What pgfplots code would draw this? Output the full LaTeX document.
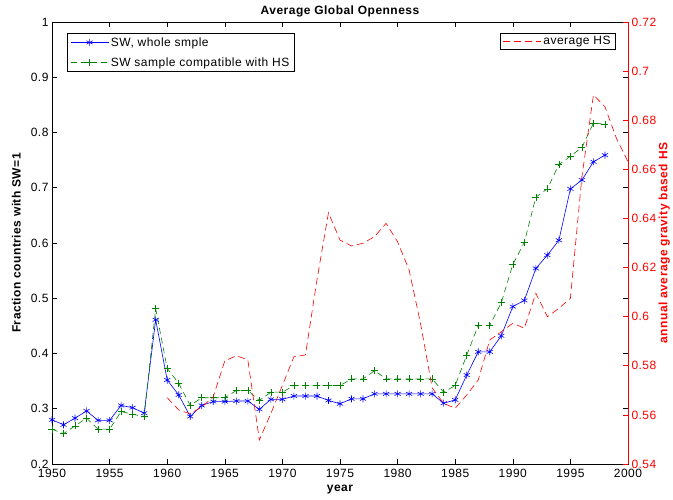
\documentclass[border=0pt]{standalone}
\usepackage{fontspec}
\setmainfont{Liberation Sans}[LetterSpace=4]
\usepackage{pgfplots}
\pgfplotsset{compat=1.18}

\definecolor{swblue}{rgb}{0,0,1}
\definecolor{swgreen}{rgb}{0,0.5,0}
\definecolor{hsred}{rgb}{1,0,0}

\begin{document}
\begin{tikzpicture}
\pgfplotsset{
  every axis/.append style={
    width=576pt, height=442pt, scale only axis,
    xmin=1950, xmax=2000,
    font=\fontsize{12}{14}\selectfont,
    /pgf/number format/assume math mode=true,
    /pgf/number format/1000 sep={},
    tick align=inside, major tick length=5pt,
    axis line style={line width=0.8pt},
    every tick/.style={line width=0.6pt},
    legend image code/.code={\draw[mark repeat=2,mark phase=2,#1] plot coordinates {(0pt,0pt) (19pt,0pt) (38pt,0pt)};},
  },
}
\begin{axis}[
  ymin=0.2, ymax=1,
  xtick={1950,1955,1960,1965,1970,1975,1980,1985,1990,1995,2000},
  ytick={0.2,0.3,0.4,0.5,0.6,0.7,0.8,0.9,1},
  xticklabel style={yshift=-2pt},
  title={Average Global Openness},
  every axis title shift=0pt,
  title style={at={(axis description cs:0.5,1.025)}, anchor=center, yshift=0pt, font=\fontsize{12}{14}\selectfont\bfseries},
  xlabel={year},
  xlabel style={at={(axis description cs:0.5,-0.058)}, anchor=center, font=\fontsize{12}{14}\selectfont\bfseries},
  ylabel={Fraction countries with SW=1},
  ylabel style={at={(axis description cs:-0.062,0.5)}, anchor=center, font=\fontsize{12}{14}\selectfont\bfseries},
  legend style={at={(0.026,0.975)}, anchor=north west, draw=black, line width=0.6pt, fill=white,
    font=\fontsize{12}{14}\selectfont, row sep=6pt, inner xsep=3pt, inner ysep=2pt},
  legend cell align=left,
]
\addplot[swblue, line width=0.6pt, mark=asterisk, mark size=3.5pt, mark options={solid}] coordinates {
(1950,0.280) (1951,0.271) (1952,0.283) (1953,0.296) (1954,0.279) (1955,0.279)
(1956,0.306) (1957,0.302) (1958,0.292) (1959,0.461) (1960,0.352) (1961,0.325)
(1962,0.286) (1963,0.306) (1964,0.313) (1965,0.313) (1966,0.314) (1967,0.314)
(1968,0.299) (1969,0.317) (1970,0.317) (1971,0.323) (1972,0.323) (1973,0.323)
(1974,0.315) (1975,0.309) (1976,0.318) (1977,0.318) (1978,0.327) (1979,0.327)
(1980,0.327) (1981,0.327) (1982,0.327) (1983,0.327) (1984,0.310) (1985,0.316)
(1986,0.361) (1987,0.403) (1988,0.403) (1989,0.432) (1990,0.485) (1991,0.496)
(1992,0.554) (1993,0.578) (1994,0.605) (1995,0.698) (1996,0.714) (1997,0.747)
(1998,0.759)
};
\addlegendentry{SW, whole smple}
\addplot[swgreen, line width=0.6pt, dash pattern=on 6pt off 4pt, mark=+, mark size=3.5pt, mark options={solid}] coordinates {
(1950,0.263) (1951,0.255) (1952,0.269) (1953,0.283) (1954,0.263) (1955,0.263)
(1956,0.295) (1957,0.290) (1958,0.286) (1959,0.481) (1960,0.373) (1961,0.346)
(1962,0.306) (1963,0.320) (1964,0.320) (1965,0.320) (1966,0.333) (1967,0.333)
(1968,0.315) (1969,0.330) (1970,0.330) (1971,0.342) (1972,0.342) (1973,0.342)
(1974,0.342) (1975,0.342) (1976,0.354) (1977,0.354) (1978,0.369) (1979,0.354)
(1980,0.354) (1981,0.354) (1982,0.354) (1983,0.354) (1984,0.330) (1985,0.342)
(1986,0.397) (1987,0.451) (1988,0.451) (1989,0.492) (1990,0.561) (1991,0.601)
(1992,0.683) (1993,0.698) (1994,0.742) (1995,0.757) (1996,0.773) (1997,0.817)
(1998,0.815)
};
\addlegendentry{SW sample compatible with HS}
\end{axis}

\begin{axis}[
  ymin=0.54, ymax=0.72,
  axis x line=none,
  axis y line*=right,
  y axis line style={hsred},
  ytick={0.54,0.56,0.58,0.6,0.62,0.64,0.66,0.68,0.7,0.72},
  ytick style={hsred},
  yticklabel style={text=hsred},
  ylabel={annual average gravity based HS},
  ylabel style={at={(axis description cs:1.063,0.5)}, anchor=center, text=hsred, font=\fontsize{12}{14}\selectfont\bfseries},
  legend style={at={(0.979,0.975)}, anchor=north east, draw=black, line width=0.6pt, fill=white,
    font=\fontsize{12}{14}\selectfont, inner xsep=3pt, inner ysep=1pt},
]
\addplot[hsred, line width=0.6pt, dash pattern=on 7pt off 4pt] coordinates {
(1960,0.567) (1961,0.562) (1962,0.5605) (1963,0.5632) (1964,0.5674) (1965,0.582)
(1966,0.5841) (1967,0.5824) (1968,0.5498) (1969,0.5606) (1970,0.572) (1971,0.5837)
(1972,0.5844) (1973,0.615) (1974,0.6423) (1975,0.6312) (1976,0.6288) (1977,0.6299)
(1978,0.6326) (1979,0.638) (1980,0.6305) (1981,0.619) (1982,0.597) (1983,0.571)
(1984,0.5647) (1985,0.5627) (1986,0.5681) (1987,0.5742) (1988,0.5905) (1989,0.5939)
(1990,0.5973) (1991,0.5953) (1992,0.6095) (1993,0.600) (1994,0.6034) (1995,0.6075)
(1996,0.657) (1997,0.6903) (1998,0.6855) (1999,0.6726) (2000,0.6631)
};
\addlegendentry{average HS}
\end{axis}
\pgfresetboundingbox
\path[use as bounding box] (-52pt,-35pt) rectangle (621pt,464pt);
\end{tikzpicture}
\end{document}
